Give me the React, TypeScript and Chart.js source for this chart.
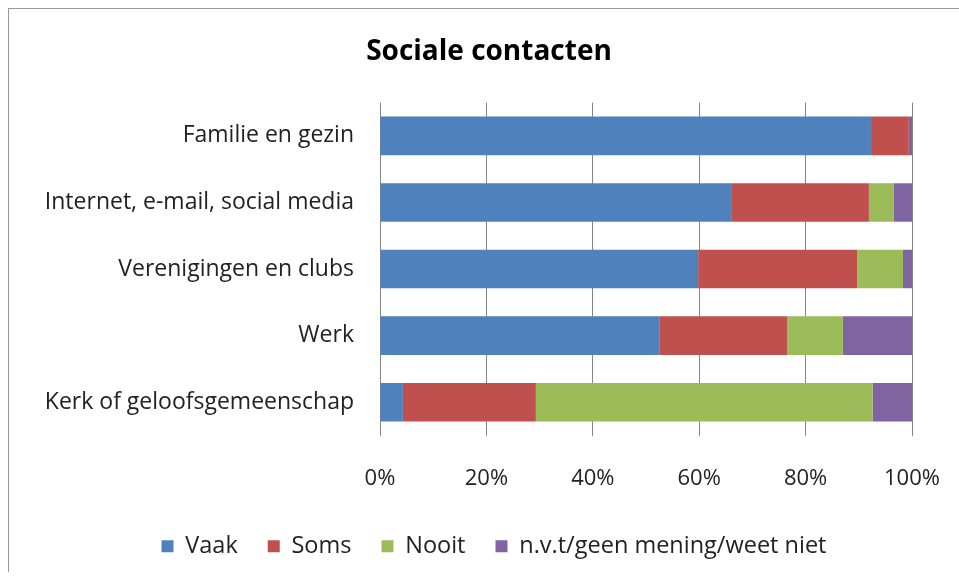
import React, { useEffect, useRef } from "react";
import { Chart, registerables } from "chart.js";

Chart.register(...registerables);

const categories = [
  "Familie en gezin",
  "Internet, e-mail, social media",
  "Verenigingen en clubs",
  "Werk",
  "Kerk of geloofsgemeenschap",
];
const vaak = [92.3, 66.0, 59.8, 52.6, 4.3];
const soms = [7.1, 25.9, 29.9, 23.9, 25.0];
const nooit = [0, 4.7, 8.6, 10.5, 63.3];
const nvt = [0.6, 3.4, 1.7, 13.0, 7.4];
const seriesNames = ["Vaak", "Soms", "Nooit", "n.v.t/geen mening/weet niet"];
const colors = ["#4F81BD", "#C0504D", "#9BBB59", "#8064A2"];

const FONT = "'Open Sans', 'Noto Sans', sans-serif";

const centerShift = {
  id: "centerShift",
  afterLayout(chart: any) {
    if (chart.titleBlock) chart.titleBlock.left += 57;
    if (chart.legend) chart.legend.left += 67;
  },
};

export default function App() {
  const ref = useRef<HTMLCanvasElement | null>(null);
  useEffect(() => {
    if (!ref.current) return;
    const series = [vaak, soms, nooit, nvt];
    const chart = new Chart(ref.current, {
      type: "bar",
      data: {
        labels: categories,
        datasets: series.map((d, i) => ({
          label: seriesNames[i],
          data: d,
          backgroundColor: colors[i],
          borderWidth: 0,
          barPercentage: 0.58,
          categoryPercentage: 1,
        })),
      },
      plugins: [centerShift],
      options: {
        indexAxis: "y",
        responsive: false,
        animation: false,
        events: [],
        layout: { padding: { left: 0, right: 47, top: 0, bottom: 4 } },
        scales: {
          x: {
            stacked: true,
            min: 0,
            max: 100,
            ticks: {
              stepSize: 20,
              padding: 0,
              color: "#222",
              font: { family: FONT, size: 22 },
              callback: (v: any) => v + "%",
            },
            grid: {
              color: "#868686",
              drawTicks: true,
              tickLength: 30,
              tickColor: "rgba(0,0,0,0)",
              lineWidth: 1,
            },
            border: { display: false },
            afterFit: (s: any) => {
              s.height = 69;
            },
          },
          y: {
            stacked: true,
            ticks: {
              padding: 26,
              color: "#222",
              font: { family: FONT, size: 23 },
            },
            grid: { display: false, drawTicks: false },
            border: { display: false },
            afterFit: (s: any) => {
              s.width = 371;
            },
          },
        },
        plugins: {
          title: {
            display: true,
            text: "Sociale contacten",
            color: "#000",
            font: { family: FONT, size: 28, weight: "bold" },
            padding: { top: 26, bottom: 34 },
          },
          legend: {
            position: "bottom",
            labels: {
              boxWidth: 12,
              boxHeight: 12,
              padding: 30,
              color: "#222",
              font: { family: FONT, size: 23.5 },
            },
          },
          tooltip: { enabled: false },
        },
      },
    });
    return () => chart.destroy();
  }, []);
  return (
    <div
      style={{
        position: "absolute",
        left: 8,
        top: 8,
        width: 951,
        height: 564,
        borderTop: "1px solid #999",
        borderLeft: "1px solid #999",
        background: "#fff",
        boxSizing: "border-box",
      }}
    >
      <canvas ref={ref} width={950} height={563} style={{ display: "block" }} />
    </div>
  );
}
